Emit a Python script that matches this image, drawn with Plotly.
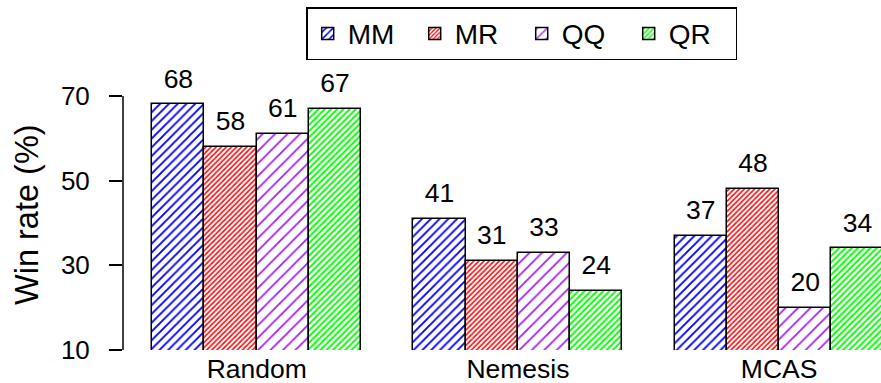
import plotly.graph_objects as go

# Win rates (%) per opponent setting, one list per strategy pair
categories = ["Random", "Nemesis", "MCAS"]
series_names = ["MM", "MR", "QQ", "QR"]
mm_values = [68, 41, 37]
mr_values = [58, 31, 48]
qq_values = [61, 33, 20]
qr_values = [67, 24, 34]
y_ticks = [10, 30, 50, 70]

series_values = [mm_values, mr_values, qq_values, qr_values]
colors = ["#0000FF", "#FF0000", "#A020F0", "#00FF00"]
hatch_sizes = [6.2, 3.6, 8.8, 4.4]
hatch_solidity = [0.3, 0.42, 0.2, 0.42]

FONT = "Liberation Sans, Arial, Helvetica, sans-serif"

# grouped layout: 4 bars of width 1 per group, one empty slot between groups
n_series = len(series_names)
group_start = [1 + g * (n_series + 1) for g in range(len(categories))]
group_center = [s + n_series / 2 for s in group_start]

fig = go.Figure()
for i, (name, vals) in enumerate(zip(series_names, series_values)):
    xs = [s + i + 0.5 for s in group_start]
    fig.add_trace(go.Bar(
        x=xs, y=vals, width=1, name=name,
        marker=dict(
            color="white",
            line=dict(color="black", width=1.5),
            pattern=dict(shape="/", fgcolor=colors[i], bgcolor="white",
                         size=hatch_sizes[i], solidity=hatch_solidity[i],
                         fillmode="replace"),
        ),
    ))
    fig.add_trace(go.Scatter(
        x=xs, y=[v + 5.5 for v in vals], mode="text",
        text=[str(v) for v in vals], textposition="middle center",
        textfont=dict(family=FONT, size=26.5, color="black"),
        showlegend=False, cliponaxis=False, hoverinfo="skip",
    ))

fig.update_layout(
    width=881, height=383,
    margin=dict(l=123, r=0, t=62, b=33),
    paper_bgcolor="white", plot_bgcolor="white",
    barmode="overlay", bargap=0,
    font=dict(family=FONT, color="black"),
    showlegend=True,
    legend=dict(
        orientation="h", x=0.526, xanchor="center", y=1.19, yanchor="top",
        bordercolor="black", borderwidth=1.5, bgcolor="white",
        font=dict(family=FONT, size=28, color="black"),
        entrywidth=62, itemwidth=30,
    ),
    xaxis=dict(
        range=[0.44, 14.95], showgrid=False, zeroline=False, showline=False,
        tickvals=group_center, ticktext=categories, ticks="",
        automargin=False,
        tickfont=dict(family=FONT, size=26.5, color="black"),
    ),
    yaxis=dict(
        range=[10, 78], showgrid=False, zeroline=False, showline=False,
        tickvals=y_ticks, ticks="outside", ticklen=13, tickwidth=1.5,
        tickcolor="black", ticklabelstandoff=14, automargin=False,
        tickfont=dict(family=FONT, size=26, color="black"),
    ),
    shapes=[dict(type="line", xref="paper", yref="y", x0=0, x1=0,
                 y0=y_ticks[0], y1=y_ticks[-1],
                 line=dict(color="black", width=1.5))],
    annotations=[dict(text="Win rate (%)", textangle=-90, xref="paper",
                      yref="paper", x=-0.1266, y=0.469, xanchor="center",
                      yanchor="middle", showarrow=False,
                      font=dict(family=FONT, size=32.5, color="black"))],
)

fig.write_html("out.html")
